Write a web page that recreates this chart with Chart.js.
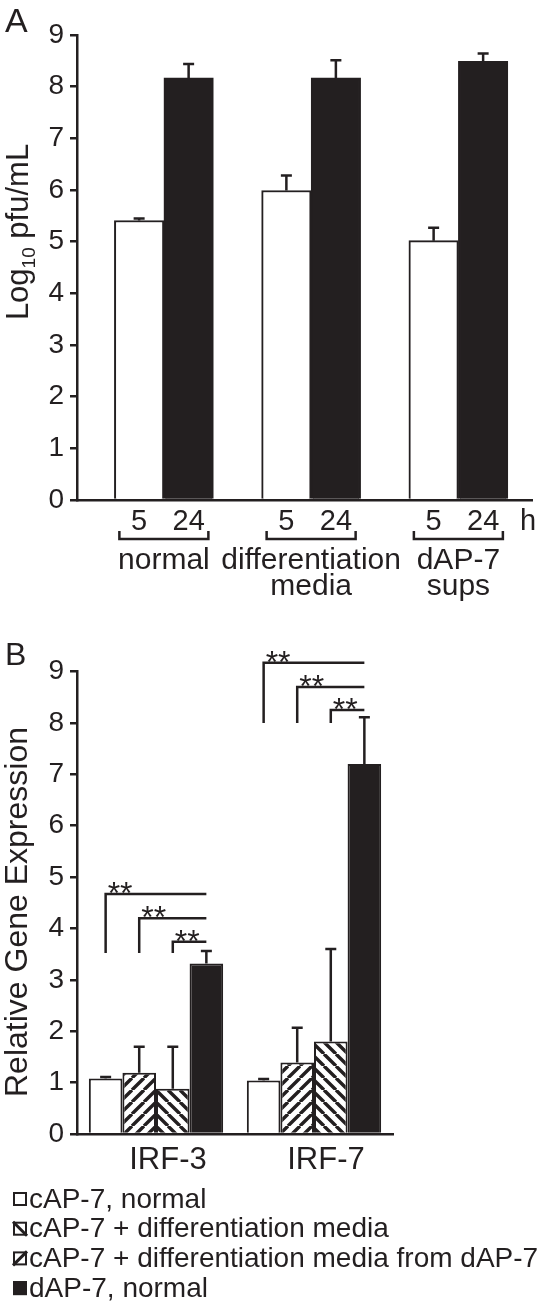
<!DOCTYPE html>
<html>
<head>
<meta charset="utf-8">
<script src="https://cdn.jsdelivr.net/npm/chart.js@4.4.1/dist/chart.umd.min.js"></script>
<style>
  body { margin: 0; background: #fff; }
  .panel { position: relative; width: 550px; }
  #panelA { height: 610px; }
  #panelB { height: 696px; }
</style>
</head>
<body>
<div class="panel" id="panelA"><canvas id="chartA"></canvas></div>
<div class="panel" id="panelB"><canvas id="chartB"></canvas></div>
<script>
'use strict';

// panel A - virus titer
const timeLabels = ['5', '24'];
const timeUnit = 'h';
const mediaGroups = [['normal'], ['differentiation', 'media'], ['dAP-7', 'sups']];
const titer5h = [5.41, 5.99, 5.02];
const titer5hErr = [0.04, 0.29, 0.25];
const titer24h = [8.17, 8.17, 8.49];
const titer24hErr = [0.27, 0.34, 0.15];
const titleA = ['Log', '10', ' pfu/mL'];

// panel B - gene expression
const genes = ['IRF-3', 'IRF-7'];
const conditions = [
  'cAP-7, normal',
  'cAP-7 + differentiation media',
  'cAP-7 + differentiation media from dAP-7',
  'dAP-7, normal'
];
const exprNormal = [1.08, 1.04];
const exprNormalErr = [0.03, 0.03];
const exprDiffMedia = [1.19, 1.39];
const exprDiffMediaErr = [0.51, 0.68];
const exprDiffFromD = [0.88, 1.80];
const exprDiffFromDErr = [0.82, 1.80];
const exprDAP = [3.32, 7.2];
const exprDAPErr = [0.24, 0.91];
const sigBase = [3.52, 8.0];
const sigTops = [[4.67, 4.2, 3.74], [9.17, 8.7, 8.25]];
const sigMark = '**';
const titleB = 'Relative Gene Expression';

const ink = '#231f20';
const fontFamily = '"Liberation Sans", Arial, Helvetica, sans-serif';
Chart.defaults.font.family = fontFamily;
Chart.defaults.color = ink;

const barStyle = { borderColor: ink, borderWidth: 2, borderSkipped: 'start' };

const hatch = (ctx, dir) => {
  const s = 12;
  const c = document.createElement('canvas');
  c.width = s; c.height = s;
  const g = c.getContext('2d');
  g.fillStyle = '#fff';
  g.fillRect(0, 0, s, s);
  g.strokeStyle = ink;
  g.lineWidth = 3.4;
  g.beginPath();
  for (let k = -1; k <= 1; k++) {
    if (dir === '/') { g.moveTo(k * s, s); g.lineTo(k * s + s, 0); }
    else { g.moveTo(k * s, 0); g.lineTo(k * s + s, s); }
  }
  g.stroke();
  return ctx.createPattern(c, 'repeat');
};

const yAxis = () => ({
  min: 0, max: 9,
  ticks: { stepSize: 1, font: { size: 28 }, color: ink, padding: 6 },
  grid: { drawOnChartArea: false, color: ink, lineWidth: 2.5, tickLength: 7 },
  border: { color: ink, width: 2.5 },
  afterFit: s => { s.width = 77; }
});

const errorBars = {
  id: 'errorBars',
  afterDatasetsDraw(chart) {
    const { ctx, scales: { y } } = chart;
    ctx.save();
    ctx.strokeStyle = ink;
    ctx.lineWidth = 2.5;
    chart.data.datasets.forEach((ds, di) => {
      chart.getDatasetMeta(di).data.forEach((bar, i) => {
        const raw = ds.data[i];
        const v = typeof raw === 'object' ? raw.y : raw;
        const top = y.getPixelForValue(v + ds.err[i]);
        ctx.beginPath();
        ctx.moveTo(bar.x, bar.y);
        ctx.lineTo(bar.x, top);
        ctx.moveTo(bar.x - 5.5, top);
        ctx.lineTo(bar.x + 5.5, top);
        ctx.stroke();
      });
    });
    ctx.restore();
  }
};

const drawYTitle = (ctx, parts, baseX, centerY) => {
  ctx.save();
  ctx.translate(baseX, centerY);
  ctx.rotate(-Math.PI / 2);
  ctx.textAlign = 'left';
  ctx.textBaseline = 'alphabetic';
  let total = 0;
  parts.forEach(p => {
    ctx.font = `${p.size}px ${fontFamily}`;
    p.w = ctx.measureText(p.text).width;
    total += p.w;
  });
  let x = -total / 2;
  parts.forEach(p => {
    ctx.font = `${p.size}px ${fontFamily}`;
    ctx.fillText(p.text, x, p.shift);
    x += p.w;
  });
  ctx.restore();
};

const panelAExtras = {
  id: 'panelAExtras',
  afterDraw(chart) {
    const { ctx, chartArea } = chart;
    const m5 = chart.getDatasetMeta(0), m24 = chart.getDatasetMeta(1);
    ctx.save();
    ctx.fillStyle = ink;
    ctx.strokeStyle = ink;
    ctx.textBaseline = 'alphabetic';
    ctx.textAlign = 'center';
    ctx.lineWidth = 2.5;

    mediaGroups.forEach((lines, i) => {
      const b5 = m5.data[i], b24 = m24.data[i];
      ctx.font = `29px ${fontFamily}`;
      ctx.fillText(timeLabels[0], b5.x, chartArea.bottom + 30);
      ctx.fillText(timeLabels[1], b24.x, chartArea.bottom + 30);

      const l = b5.x - b5.width / 2 + 5, r = b24.x + b24.width / 2 - 5, by = chartArea.bottom + 39;
      ctx.beginPath();
      ctx.moveTo(l, by - 8); ctx.lineTo(l, by); ctx.lineTo(r, by); ctx.lineTo(r, by - 8);
      ctx.stroke();

      ctx.font = `30px ${fontFamily}`;
      const cx = (b5.x + b24.x) / 2;
      lines.forEach((t, k) => ctx.fillText(t, cx, chartArea.bottom + 69 + k * 26));
    });

    ctx.textAlign = 'left';
    ctx.font = `29px ${fontFamily}`;
    ctx.fillText(timeUnit, chartArea.right - 12, chartArea.bottom + 30);

    drawYTitle(ctx, [
      { text: titleA[0], size: 31, shift: 0 },
      { text: titleA[1], size: 19, shift: 7 },
      { text: titleA[2], size: 31, shift: 0 }
    ], 28, 232);

    ctx.font = `34px ${fontFamily}`;
    ctx.fillText('A', 5, 32);
    ctx.restore();
  }
};

const panelBExtras = {
  id: 'panelBExtras',
  afterDraw(chart) {
    const { ctx, scales: { y } } = chart;
    const last = chart.data.datasets.length - 1;
    const target = chart.getDatasetMeta(last);
    ctx.save();
    ctx.strokeStyle = ink;
    ctx.fillStyle = ink;
    ctx.lineWidth = 2.5;
    ctx.textAlign = 'left';
    ctx.textBaseline = 'alphabetic';

    // significance brackets
    ctx.font = `32px ${fontFamily}`;
    genes.forEach((g, gi) => {
      const xEnd = target.data[gi].x;
      const yBase = y.getPixelForValue(sigBase[gi]);
      sigTops[gi].forEach((top, di) => {
        const x0 = chart.getDatasetMeta(di).data[gi].x;
        const yTop = y.getPixelForValue(top);
        ctx.beginPath();
        ctx.moveTo(x0, yBase); ctx.lineTo(x0, yTop); ctx.lineTo(xEnd, yTop);
        ctx.stroke();
        ctx.fillText(sigMark, x0 + 2, yTop + 10);
      });
    });

    drawYTitle(ctx, [{ text: titleB, size: 32, shift: 0 }], 27, 302);

    ctx.font = `32px ${fontFamily}`;
    ctx.fillText('B', 5, 55);

    // legend, one condition per line
    ctx.font = `28px ${fontFamily}`;
    ctx.textBaseline = 'middle';
    conditions.forEach((label, i) => {
      const cy = 589 + i * 29.7;
      const bx = 13, by = cy - 7, s = 14;
      ctx.fillStyle = i === 3 ? ink : '#fff';
      ctx.fillRect(bx, by, s, s);
      if (i === 1 || i === 2) {
        ctx.lineWidth = 3;
        ctx.beginPath();
        if (i === 1) { ctx.moveTo(bx, by); ctx.lineTo(bx + s, by + s); }
        else { ctx.moveTo(bx, by + s); ctx.lineTo(bx + s, by); }
        ctx.stroke();
      }
      ctx.lineWidth = 2;
      ctx.strokeRect(bx + 1, by + 1, s - 2, s - 2);
      ctx.fillStyle = ink;
      ctx.fillText(label, 29, cy + 1);
    });
    ctx.restore();
  }
};

const chartA = new Chart(document.getElementById('chartA'), {
  type: 'bar',
  data: {
    datasets: [
      { label: timeLabels[0], data: titer5h.map((v, i) => ({ x: i, y: v })), err: titer5hErr, backgroundColor: '#fff', ...barStyle },
      { label: timeLabels[1], data: titer24h.map((v, i) => ({ x: i, y: v })), err: titer24hErr, backgroundColor: ink, ...barStyle }
    ]
  },
  options: {
    responsive: true,
    maintainAspectRatio: false,
    animation: false,
    layout: { padding: { top: 35, right: 18, left: 0, bottom: 0 } },
    datasets: { bar: { barThickness: 49.5 } },
    plugins: { legend: { display: false }, tooltip: { enabled: false } },
    scales: {
      x: {
        type: 'linear', min: -0.59, max: 2.5, offset: false,
        ticks: { display: false },
        grid: { display: false, drawTicks: false },
        border: { color: ink, width: 2.5 },
        afterFit: s => { s.height = 110; }
      },
      y: yAxis()
    }
  },
  plugins: [errorBars, panelAExtras]
});

const ctxB = document.getElementById('chartB').getContext('2d');
const chartB = new Chart(ctxB, {
  type: 'bar',
  data: {
    labels: genes,
    datasets: [
      { label: conditions[0], data: exprNormal, err: exprNormalErr, backgroundColor: '#fff', ...barStyle },
      { label: conditions[1], data: exprDiffMedia, err: exprDiffMediaErr, backgroundColor: hatch(ctxB, '/'), ...barStyle },
      { label: conditions[2], data: exprDiffFromD, err: exprDiffFromDErr, backgroundColor: hatch(ctxB, '\\'), ...barStyle },
      { label: conditions[3], data: exprDAP, err: exprDAPErr, backgroundColor: ink, ...barStyle }
    ]
  },
  options: {
    responsive: true,
    maintainAspectRatio: false,
    animation: false,
    layout: { padding: { top: 61.5, right: 157, left: 0, bottom: 122 } },
    datasets: { bar: { categoryPercentage: 0.85, barPercentage: 1 } },
    plugins: { legend: { display: false }, tooltip: { enabled: false } },
    scales: {
      x: {
        ticks: { font: { size: 31 }, color: ink, padding: 8, labelOffset: 12 },
        grid: { display: false, drawTicks: false },
        border: { color: ink, width: 2.5 },
        afterFit: s => { s.height = 50; }
      },
      y: yAxis()
    }
  },
  plugins: [errorBars, panelBExtras]
});
</script>
</body>
</html>
